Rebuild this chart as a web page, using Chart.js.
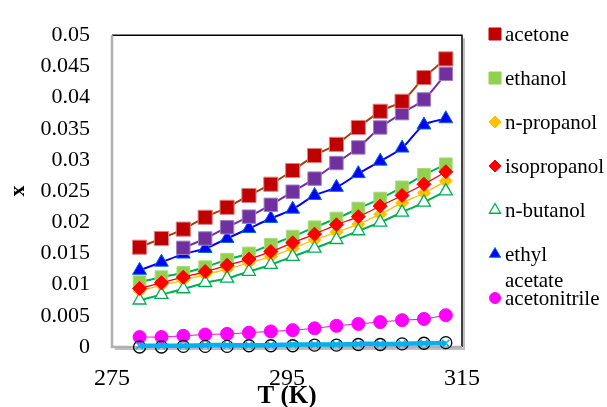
<!DOCTYPE html>
<html>
<head>
<meta charset="utf-8">
<script src="https://cdn.jsdelivr.net/npm/chart.js@4/dist/chart.umd.min.js"></script>
<style>
  html, body { margin: 0; padding: 0; background: #fff; }
  #wrap { width: 607px; height: 407px; position: relative; }
</style>
</head>
<body>
<div id="wrap"><canvas id="c"></canvas></div>
<script>
// Temperatures (K)
const temperatures = [278.15, 280.65, 283.15, 285.65, 288.15, 290.65, 293.15, 295.65,
                      298.15, 300.65, 303.15, 305.65, 308.15, 310.65, 313.15];

// Mole-fraction solubility x in each solvent
const acetone      = [0.0160, 0.0174, 0.0189, 0.0208, 0.0224, 0.0243, 0.0261, 0.0283,
                      0.0307, 0.0325, 0.0352, 0.0378, 0.0394, 0.0432, 0.0462];
const ethanol      = [0.0104, 0.0112, 0.0119, 0.0128, 0.0140, 0.0150, 0.0164, 0.0177,
                      0.0192, 0.0206, 0.0222, 0.0238, 0.0256, 0.0276, 0.0293];
const nPropanol    = [0.0090, 0.0099, 0.0107, 0.0116, 0.0125, 0.0135, 0.0145, 0.0158,
                      0.0172, 0.0184, 0.0197, 0.0213, 0.0231, 0.0247, 0.0266];
const isopropanol  = [0.0094, 0.0103, 0.0112, 0.0121, 0.0131, 0.0141, 0.0153, 0.0167,
                      0.0181, 0.0196, 0.0209, 0.0226, 0.0243, 0.0261, 0.0281];
const nButanol     = [0.0075, 0.0084, 0.0093, 0.0103, 0.0110, 0.0121, 0.0132, 0.0145,
                      0.0158, 0.0172, 0.0186, 0.0200, 0.0216, 0.0232, 0.0250];
const ethylAcetate = [0.0123, 0.0136, 0.0149, 0.0158, 0.0174, 0.0190, 0.0206, 0.0221,
                      0.0243, 0.0256, 0.0278, 0.0298, 0.0319, 0.0356, 0.0366];
const acetonitrile = [0.0016, 0.0016, 0.0018, 0.0020, 0.0021, 0.0023, 0.0025, 0.0027,
                      0.0030, 0.0034, 0.0037, 0.0040, 0.0043, 0.0045, 0.0051];
// Series without a legend entry
const purpleTemps  = temperatures.slice(2);
const purpleSeries = [0.0159, 0.0174, 0.0192, 0.0209, 0.0228, 0.0249, 0.0270,
                      0.0295, 0.0320, 0.0352, 0.0375, 0.0397, 0.0438];
const circleSeries = [0.0000, 0.0000, 0.0001, 0.0001, 0.0001, 0.0002, 0.0002, 0.0002,
                      0.0003, 0.0003, 0.0004, 0.0004, 0.0005, 0.0006, 0.0007];
const cyanSeries   = [0.0002, 0.0002, 0.0002, 0.0003, 0.0003, 0.0003, 0.0003, 0.0004,
                      0.0004, 0.0004, 0.0005, 0.0005, 0.0005, 0.0006, 0.0006];

// Axis ticks
const xTicks = [275, 295, 315];
const yTicks = [0, 0.005, 0.01, 0.015, 0.02, 0.025, 0.03, 0.035, 0.04, 0.045, 0.05];
const yTickLabels = ['0', '0.005', '0.01', '0.015', '0.02', '0.025', '0.03', '0.035', '0.04', '0.045', '0.05'];

// Legend entries
const legendNames = ['acetone', 'ethanol', 'n-propanol', 'isopropanol', 'n-butanol', ['ethyl', 'acetate'], 'acetonitrile'];

const SERIF = '"Liberation Serif", "Times New Roman", serif';

function pts(xs, ys) { return ys.map((y, i) => ({ x: xs[i], y })); }

function series(label, xs, ys, o) {
  return Object.assign({
    label,
    data: pts(xs, ys),
    showLine: true,
    borderWidth: 2,
    tension: 0.3,
    clip: false,
    pointBorderWidth: 1,
  }, o);
}

const datasets = [
  series('cyan', temperatures, cyanSeries, {
    order: 0, borderColor: '#00B0F0', borderWidth: 4.5, pointStyle: 'crossRot',
    pointRadius: 5, pointBorderColor: '#00B0F0', pointBorderWidth: 1.5, pointBackgroundColor: '#00B0F0'
  }),
  series('circles', temperatures, circleSeries, {
    order: 1, showLine: false, pointStyle: 'circle', pointRadius: 6,
    pointBorderColor: '#000000', pointBorderWidth: 1.3, pointBackgroundColor: 'rgba(0,0,0,0)'
  }),
  series('acetonitrile', temperatures, acetonitrile, {
    order: 2, borderColor: '#FF00FF', borderWidth: 1, pointStyle: 'circle', pointRadius: 6.5,
    pointBorderColor: '#FF00FF', pointBackgroundColor: '#FF00FF'
  }),
  series('acetone', temperatures, acetone, {
    order: 3, borderColor: '#A0410D', pointStyle: 'rect', pointRadius: 10,
    pointBorderColor: '#E08080', pointBackgroundColor: '#C00000'
  }),
  series('purple', purpleTemps, purpleSeries, {
    order: 4, borderColor: '#7030A0', pointStyle: 'rect', pointRadius: 9.5,
    pointBorderColor: '#A080C0', pointBackgroundColor: '#7030A0'
  }),
  series('ethyl acetate', temperatures, ethylAcetate, {
    order: 5, borderColor: '#0000FF', pointStyle: 'triangle', pointRadius: 8,
    pointBorderColor: '#0070C0', pointBackgroundColor: '#0000FF'
  }),
  series('isopropanol', temperatures, isopropanol, {
    order: 6, borderColor: '#FF0000', borderWidth: 1.3, pointStyle: 'rectRot', pointRadius: 7,
    pointBorderColor: '#FF0000', pointBackgroundColor: '#FF0000'
  }),
  series('n-butanol', temperatures, nButanol, {
    order: 7, borderColor: '#00B050', pointStyle: 'triangle', pointRadius: 7.5,
    pointBorderColor: '#00B050', pointBorderWidth: 1.3, pointBackgroundColor: '#FFFFFF'
  }),
  series('n-propanol', temperatures, nPropanol, {
    order: 8, borderColor: '#FFC000', borderWidth: 1.3, pointStyle: 'rectRot', pointRadius: 6.5,
    pointBorderColor: '#FFC000', pointBackgroundColor: '#FFC000'
  }),
  series('ethanol', temperatures, ethanol, {
    order: 9, borderColor: '#00B050', pointStyle: 'rect', pointRadius: 9,
    pointBorderColor: '#A8DC80', pointBackgroundColor: '#92D050'
  }),
];

// Legend marker styles, in legend order
const legendStyles = [
  { style: 'rect', r: 8.5, fill: '#C00000', stroke: '#C00000' },
  { style: 'rect', r: 8.5, fill: '#92D050', stroke: '#92D050' },
  { style: 'rectRot', r: 6, fill: '#FFC000', stroke: '#FFC000' },
  { style: 'rectRot', r: 6, fill: '#FF0000', stroke: '#FF0000' },
  { style: 'triangle', r: 6.5, fill: '#FFFFFF', stroke: '#00B050', w: 1.3 },
  { style: 'triangle', r: 6.5, fill: '#0000FF', stroke: '#0070C0' },
  { style: 'circle', r: 5.5, fill: '#FF00FF', stroke: '#FF00FF' },
];
const legendRows = [34, 78, 122, 166, 210, 254, 298];

const framePlugin = {
  id: 'frame',
  beforeDatasetsDraw(chart) {
    const { ctx, chartArea: a } = chart;
    ctx.save();
    // soft shadow along right and bottom
    ctx.strokeStyle = '#BFBFBF';
    ctx.lineWidth = 2;
    ctx.beginPath();
    ctx.moveTo(a.right + 2, a.top + 3);
    ctx.lineTo(a.right + 2, a.bottom + 2);
    ctx.lineTo(a.left + 3, a.bottom + 2);
    ctx.stroke();
    // top and right border
    ctx.strokeStyle = '#000000';
    ctx.lineWidth = 1.5;
    ctx.beginPath();
    ctx.moveTo(a.left, a.top);
    ctx.lineTo(a.right, a.top);
    ctx.lineTo(a.right, a.bottom);
    ctx.stroke();
    // left and bottom axis lines
    ctx.strokeStyle = '#B0B0B0';
    ctx.lineWidth = 2.5;
    ctx.beginPath();
    ctx.moveTo(a.left, a.top);
    ctx.lineTo(a.left, a.bottom);
    ctx.lineTo(a.right, a.bottom);
    ctx.stroke();
    ctx.restore();
  },
  afterDraw(chart) {
    const ctx = chart.ctx;
    ctx.save();
    ctx.font = '21px ' + SERIF;
    ctx.fillStyle = '#000000';
    ctx.textBaseline = 'middle';
    legendNames.forEach((name, i) => {
      const y = legendRows[i];
      const s = legendStyles[i];
      ctx.fillStyle = s.fill;
      ctx.strokeStyle = s.stroke;
      ctx.lineWidth = s.w || 1;
      Chart.helpers.drawPoint(ctx, { pointStyle: s.style, radius: s.r, borderWidth: s.w || 1 }, 495, y);
      ctx.fillStyle = '#000000';
      const lines = Array.isArray(name) ? name : [name];
      lines.forEach((t, k) => ctx.fillText(t, 505, y + 1 + k * 26));
    });
    ctx.restore();
  }
};

new Chart(document.getElementById('c'), {
  type: 'scatter',
  data: { datasets },
  options: {
    responsive: true,
    maintainAspectRatio: false,
    animation: false,
    layout: { padding: { left: 0, right: 145, top: 21, bottom: 0 } },
    plugins: { legend: { display: false }, tooltip: { enabled: false } },
    scales: {
      x: {
        type: 'linear', min: 275, max: 315,
        grid: { display: false, drawTicks: false },
        border: { display: false },
        afterBuildTicks(scale) { scale.ticks = xTicks.map(v => ({ value: v })); },
        afterFit(scale) { scale.height = 60; },
        ticks: { padding: 17, color: '#000', font: { family: SERIF, size: 24 },
                 callback: v => String(v) },
        title: { display: true, text: 'T (K)', color: '#000', padding: { top: 0, bottom: -5 },
                 font: { family: SERIF, size: 25, weight: 'bold' } }
      },
      y: {
        type: 'linear', min: 0, max: 0.05,
        grid: { display: false, drawTicks: false },
        border: { display: false },
        afterBuildTicks(scale) { scale.ticks = yTicks.map(v => ({ value: v })); },
        afterFit(scale) { scale.width = 112; },
        ticks: { padding: 22, color: '#000', font: { family: SERIF, size: 22 },
                 callback: (v, i) => yTickLabels[i] },
        title: { display: true, text: 'x', color: '#000', padding: { top: 5, bottom: 0 },
                 font: { family: SERIF, size: 22, weight: 'bold' } }
      }
    }
  },
  plugins: [framePlugin]
});
</script>
</body>
</html>
